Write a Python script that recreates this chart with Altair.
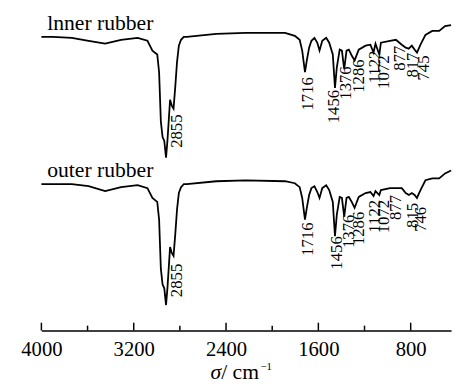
import altair as alt
import pandas as pd

# Inner rubber spectrum (wavenumber, height above axis)
inner_w = [4000, 3900, 3736, 3591, 3447, 3310, 3166, 3081, 3038, 2996, 2980, 2965, 2950, 2935, 2920,
           2908, 2885, 2870, 2855, 2840, 2825, 2809, 2790, 2766, 2740, 2485, 2230, 1889, 1804, 1762,
           1740, 1716, 1700, 1680, 1660, 1634, 1609, 1590, 1566, 1532, 1506, 1475, 1456, 1440, 1415,
           1396, 1376, 1356, 1336, 1311, 1286, 1250, 1191, 1149, 1122, 1105, 1072, 1058, 979, 928,
           877, 843, 817, 790, 766, 745, 715, 672, 613, 553, 502, 450]
inner_v = [299, 299, 298, 295, 292, 296, 298, 295, 285, 281, 263, 213, 197, 193, 176,
           193, 235, 229, 226, 248, 273, 290, 296, 299, 299, 302, 303, 303, 300, 296,
           285, 263, 275, 288, 295, 298, 293, 285, 295, 298, 293, 281, 247, 268, 286,
           285, 266, 285, 286, 280, 275, 286, 290, 291, 283, 292, 281, 293, 295, 296,
           291, 288, 287, 290, 286, 283, 291, 301, 305, 305, 310, 311]

# Outer rubber spectrum
outer_w = [4000, 3900, 3736, 3591, 3447, 3310, 3166, 3081, 3038, 2996, 2980, 2965, 2950, 2935, 2920,
           2908, 2885, 2870, 2855, 2840, 2825, 2809, 2790, 2766, 2740, 2485, 2230, 1889, 1804, 1762,
           1740, 1716, 1700, 1680, 1660, 1634, 1609, 1590, 1566, 1532, 1506, 1475, 1456, 1440, 1415,
           1396, 1376, 1356, 1336, 1311, 1286, 1250, 1191, 1149, 1122, 1105, 1072, 1058, 979, 928,
           877, 843, 815, 790, 766, 746, 715, 672, 613, 553, 502, 450]
outer_v = [149, 149, 149, 147, 142, 146, 148, 145, 135, 131, 113, 63, 47, 43, 26,
           43, 85, 79, 76, 98, 123, 140, 146, 149, 149, 152, 153, 152, 150, 146,
           135, 113, 125, 138, 145, 147, 141, 135, 145, 148, 143, 131, 96, 118, 136,
           135, 116, 135, 136, 131, 125, 136, 140, 141, 137, 142, 138, 143, 145, 145,
           145, 140, 138, 140, 138, 135, 143, 153, 155, 155, 160, 163]

# Peak labels: text, where the label sits (wavenumber) and the level of its top end
inner_peaks = [2855, 1716, 1456, 1376, 1286, 1122, 1072, 877, 817, 745]
inner_peak_at = [2826, 1685, 1464, 1362, 1251, 1106, 1030, 894, 783, 681]
inner_peak_v = [220, 258, 245, 269, 276, 285, 280, 290, 283, 280]
outer_peaks = [2855, 1716, 1456, 1376, 1286, 1122, 1072, 877, 815, 746]
outer_peak_at = [2826, 1685, 1438, 1336, 1243, 1106, 1030, 928, 783, 706]
outer_peak_v = [68, 110, 96, 118, 121, 133, 133, 138, 130, 126]

series_names = ["lnner rubber", "outer rubber"]
series_label_v = [306, 156]

major_ticks = [4000, 3200, 2400, 1600, 800]
minor_ticks = [3600, 2800, 2000, 1200]

FONT = "Liberation Serif"

lines = pd.DataFrame(
    [{"w": w, "v": v, "series": series_names[0], "i": k} for k, (w, v) in enumerate(zip(inner_w, inner_v))]
    + [{"w": w, "v": v, "series": series_names[1], "i": k} for k, (w, v) in enumerate(zip(outer_w, outer_v))]
)
peaks = pd.DataFrame(
    [{"w": a, "v": v, "t": str(p)} for p, a, v in zip(inner_peaks, inner_peak_at, inner_peak_v)]
    + [{"w": a, "v": v, "t": str(p)} for p, a, v in zip(outer_peaks, outer_peak_at, outer_peak_v)]
)
names = pd.DataFrame({"w": [3950, 3950], "v": series_label_v, "t": series_names})
ticks = pd.DataFrame(
    [{"w": w, "v0": 0, "v1": 8} for w in major_ticks] + [{"w": w, "v0": 0, "v1": 5} for w in minor_ticks]
)

xscale = alt.Scale(domain=[4000, 450], nice=False, zero=False)
yscale = alt.Scale(domain=[0, 320], nice=False, zero=False)
xaxis = alt.Axis(values=major_ticks, format="d", labelFont=FONT, labelFontSize=21,
                 labelColor="black", ticks=False, tickSize=0, domainColor="black",
                 domainWidth=1.5, labelPadding=8, labelFlush=False, grid=False,
                 labelOverlap=False, title=None)


def X():
    return alt.X("w:Q", scale=xscale, axis=xaxis, title=None)


def Y(field):
    return alt.Y(field, scale=yscale, axis=None)


line = alt.Chart(lines).mark_line(color="black", strokeWidth=1.8).encode(
    x=X(), y=Y("v:Q"), detail="series:N", order="i:Q",
)

tick_rules = alt.Chart(ticks).mark_rule(color="black", strokeWidth=1.5).encode(
    x=X(), y=Y("v0:Q"), y2="v1:Q",
)

peak_text = alt.Chart(peaks).mark_text(
    angle=270, align="right", baseline="middle", font=FONT, fontSize=17, color="black"
).encode(x=X(), y=Y("v:Q"), text="t:N")

name_text = alt.Chart(names).mark_text(
    align="left", baseline="alphabetic", font=FONT, fontSize=22, color="black"
).encode(x=X(), y=Y("v:Q"), text="t:N")

sigma = alt.Chart(pd.DataFrame({"t": ["σ"]})).mark_text(
    align="right", baseline="alphabetic", font=FONT, fontSize=22, fontStyle="italic", color="black"
).encode(x=alt.value(183), y=alt.value(369), text="t:N")
unit = alt.Chart(pd.DataFrame({"t": ["/ cm"]})).mark_text(
    align="left", baseline="alphabetic", font=FONT, fontSize=22, color="black"
).encode(x=alt.value(183), y=alt.value(369), text="t:N")
sup = alt.Chart(pd.DataFrame({"t": ["−1"]})).mark_text(
    align="left", baseline="alphabetic", font=FONT, fontSize=11, color="black"
).encode(x=alt.value(223), y=alt.value(360), text="t:N")

chart = alt.layer(line, tick_rules, peak_text, name_text, sigma, unit, sup).properties(
    width=417, height=320,
    padding={"left": 34, "top": 5, "right": 4, "bottom": 50},
    autosize=alt.AutoSizeParams(type="none"),
).configure_view(stroke=None)

chart.save("out.html", embed_options={"renderer": "svg", "actions": False})
